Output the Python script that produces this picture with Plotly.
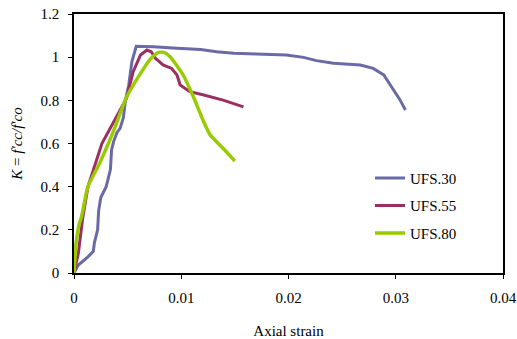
import plotly.graph_objects as go

# ---- data ----
ufs30_strain = [0, 0.0004, 0.0013, 0.0018, 0.0019, 0.0022, 0.0023, 0.0025, 0.0030, 0.0034,
                0.0035, 0.0037, 0.0040, 0.0043, 0.0046, 0.0048, 0.0051, 0.0054, 0.0058,
                0.0074, 0.0096, 0.0118, 0.0133, 0.0149, 0.0170, 0.0198, 0.0214, 0.0226,
                0.0242, 0.0267, 0.0279, 0.0289, 0.0296, 0.0304, 0.0309]
ufs30_k = [0, 0.037, 0.075, 0.10, 0.14, 0.20, 0.29, 0.35, 0.40, 0.48,
           0.57, 0.61, 0.65, 0.67, 0.72, 0.80, 0.87, 0.98, 1.05,
           1.048, 1.041, 1.036, 1.025, 1.018, 1.015, 1.010, 0.999, 0.984,
           0.972, 0.964, 0.948, 0.917, 0.863, 0.802, 0.755]

ufs55_strain = [0, 0.0004, 0.0008, 0.0013, 0.0026, 0.0038, 0.0049, 0.0055, 0.0062, 0.0068,
                0.0072, 0.0076, 0.0083, 0.0091, 0.0096, 0.0099, 0.0108, 0.0121, 0.0139, 0.0158]
ufs55_k = [0, 0.09, 0.25, 0.40, 0.60, 0.71, 0.81, 0.93, 1.01, 1.033,
           1.025, 0.995, 0.964, 0.948, 0.917, 0.871, 0.840, 0.825, 0.801, 0.770]

ufs80_strain = [0, 0.0002, 0.0005, 0.0007, 0.0013, 0.0024, 0.0037, 0.0049, 0.0062, 0.0071,
                0.0079, 0.0085, 0.0090, 0.0096, 0.0102, 0.0111, 0.0121, 0.0127, 0.0139, 0.0150]
ufs80_k = [0, 0.14, 0.23, 0.26, 0.40, 0.51, 0.66, 0.815, 0.925, 0.99,
           1.022, 1.02, 1.0, 0.96, 0.915, 0.82, 0.70, 0.64, 0.578, 0.519]

series_names = ["UFS.30", "UFS.55", "UFS.80"]
x_ticks = [0, 0.01, 0.02, 0.03, 0.04]
x_tick_labels = ["0", "0.01", "0.02", "0.03", "0.04"]
y_ticks = [0, 0.2, 0.4, 0.6, 0.8, 1.0, 1.2]
y_tick_labels = ["0", "0.2", "0.4", "0.6", "0.8", "1", "1.2"]

colors = ["#6a6aa6", "#9b2f62", "#99cc00"]
FONT = "Liberation Serif, Times New Roman, serif"

fig = go.Figure()
for name, xs, ys, c, w, shp in zip(series_names,
                                   [ufs30_strain, ufs55_strain, ufs80_strain],
                                   [ufs30_k, ufs55_k, ufs80_k],
                                   colors, [3, 3, 3.5], ["linear", "linear", "spline"]):
    fig.add_trace(go.Scatter(x=xs, y=ys, mode="lines", name=name, legendgroup=name,
                             line=dict(color=c, width=w, shape=shp, smoothing=0.6)))

fig.update_layout(
    width=517, height=339,
    margin=dict(l=74, r=14, t=14, b=66),
    paper_bgcolor="white", plot_bgcolor="white",
    font=dict(family=FONT, size=15, color="black"),
    legend=dict(x=0.69, y=0.43, xanchor="left", yanchor="top",
                bgcolor="rgba(0,0,0,0)", font=dict(size=15),
                tracegroupgap=5, traceorder="grouped"),
)
fig.update_xaxes(range=[0, 0.04], tickvals=x_ticks, ticktext=x_tick_labels,
                 showgrid=False, zeroline=False, showline=True, linecolor="black",
                 linewidth=1.5, mirror=True, ticks="outside", ticklen=4,
                 tickcolor="black", ticklabelstandoff=6, automargin=False,
                 ticklabeloverflow="allow",
                 title=dict(text="Axial strain", font=dict(size=15), standoff=22))
fig.update_yaxes(range=[0, 1.2], tickvals=y_ticks, ticktext=y_tick_labels,
                 showgrid=False, zeroline=False, showline=True, linecolor="black",
                 linewidth=1.5, mirror=True, ticks="outside", ticklen=4,
                 tickcolor="black", ticklabelstandoff=6, automargin=False,
                 ticklabeloverflow="allow",
                 title=dict(text="<i>K</i> = <i>f′cc/f′co</i>", font=dict(size=15),
                            standoff=14))

fig.write_html("out.html", config={"displayModeBar": False},
               post_script="document.body.style.margin='0';document.body.style.overflow='hidden';")
